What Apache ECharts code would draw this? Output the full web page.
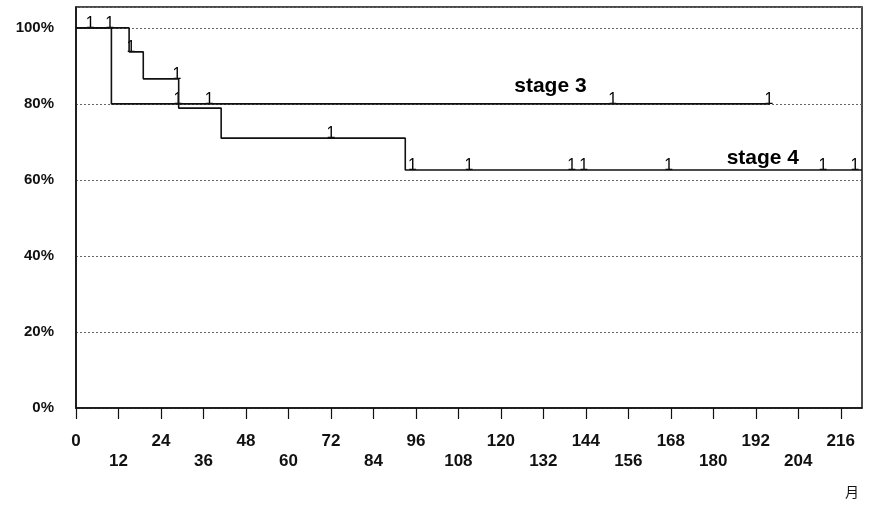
<!DOCTYPE html>
<html>
<head>
<meta charset="utf-8">
<script src="https://cdn.jsdelivr.net/npm/echarts@6/dist/echarts.min.js"></script>
<style>html,body{margin:0;padding:0;background:#fff}#c{width:870px;height:508px}</style>
</head>
<body>
<div id="c"></div>
<script>
// Kaplan-Meier step data (months, survival %)
const stage3Times = [0, 10, 196];
const stage3Surv  = [100, 80, 80];
const stage4Times = [0, 15, 19, 29, 41, 93, 222];
const stage4Surv  = [100, 93.7, 86.6, 78.9, 71, 62.6, 62.6];
// censoring times
const stage3Censor = [4, 28.8, 37.6, 151.6, 195.7];
const stage4Censor = [9.5, 15.5, 28.5, 72, 95, 111, 140, 143.4, 167.4, 211, 220];
// curve labels
const curveNames = ['stage 3', 'stage 4'];
const curveLabelX = [134, 194];
const curveLabelY = [84.7, 65.8];
// ticks
const xTicks = [0,12,24,36,48,60,72,84,96,108,120,132,144,156,168,180,192,204,216];
const yTicks = [0,20,40,60,80,100];
const xUnit = '月';

function survAt(times, surv, t) {
  let v = surv[0];
  for (let i = 0; i < times.length; i++) { if (times[i] <= t) v = surv[i]; }
  return v;
}
const pairs = (a, b) => a.map((t, i) => [t, b[i]]);
const censorPts = (c, times, surv) => c.map(t => [t, survAt(times, surv, t)]);

const FONT = '"Liberation Sans", Arial, sans-serif';
const chart = echarts.init(document.getElementById('c'), null, {renderer: 'canvas'});
const censorSeries = (data) => ({
  type: 'scatter', data: data, symbol: 'circle', symbolSize: 1,
  itemStyle: {color: '#000', opacity: 0}, silent: true,
  label: {show: true, formatter: '1', position: 'top', distance: -4, opacity: 1,
    color: '#000', fontSize: 16, fontFamily: FONT}
});
chart.setOption({
  animation: false,
  backgroundColor: '#fff',
  title: {text: xUnit, right: 6, bottom: 4,
    textStyle: {fontSize: 14, fontWeight: 'normal', color: '#111', fontFamily: '"Noto Sans CJK JP", sans-serif'}},
  grid: {left: 76, right: 8, top: 7, bottom: 100, show: true, borderColor: '#111', borderWidth: 1.5},
  xAxis: {
    type: 'value', min: 0, max: 222, interval: 12,
    axisLine: {lineStyle: {color: '#111', width: 1.5}},
    axisTick: {show: true, length: 11, lineStyle: {color: '#111', width: 1.2}, customValues: xTicks},
    splitLine: {show: false},
    axisLabel: {customValues: xTicks, margin: 23, color: '#111', fontSize: 17, fontWeight: 'bold',
      fontFamily: FONT, lineHeight: 20,
      formatter: v => ((v / 12) % 2 === 1 ? '\n' + v : String(v))}
  },
  yAxis: {
    type: 'value', min: 0, max: 105.5, interval: 20,
    axisLine: {show: true, lineStyle: {color: '#111', width: 1.5}},
    axisTick: {show: false},
    splitLine: {show: true, lineStyle: {color: '#666', type: [2, 2], width: 1}},
    axisLabel: {showMaxLabel: false, margin: 22, color: '#111', fontSize: 15, fontWeight: 'bold', fontFamily: FONT,
      formatter: v => (v % 20 === 0 ? v + '%' : '')}
  },
  series: [
    {type: 'line', step: 'end', data: pairs(stage3Times, stage3Surv), symbol: 'none',
      lineStyle: {color: '#111', width: 1.6}},
    {type: 'line', step: 'end', data: pairs(stage4Times, stage4Surv), symbol: 'none',
      lineStyle: {color: '#111', width: 1.6}},
    censorSeries(censorPts(stage3Censor, stage3Times, stage3Surv)),
    censorSeries(censorPts(stage4Censor, stage4Times, stage4Surv)),
    {type: 'scatter', symbolSize: 1, silent: true, itemStyle: {color: '#000', opacity: 0},
      data: curveNames.map((n, i) => ({name: n, value: [curveLabelX[i], curveLabelY[i]]})),
      label: {show: true, position: 'inside', formatter: p => p.name, color: '#000', opacity: 1,
        fontSize: 21, fontWeight: 'bold', fontFamily: FONT}}
  ]
});
</script>
</body>
</html>
